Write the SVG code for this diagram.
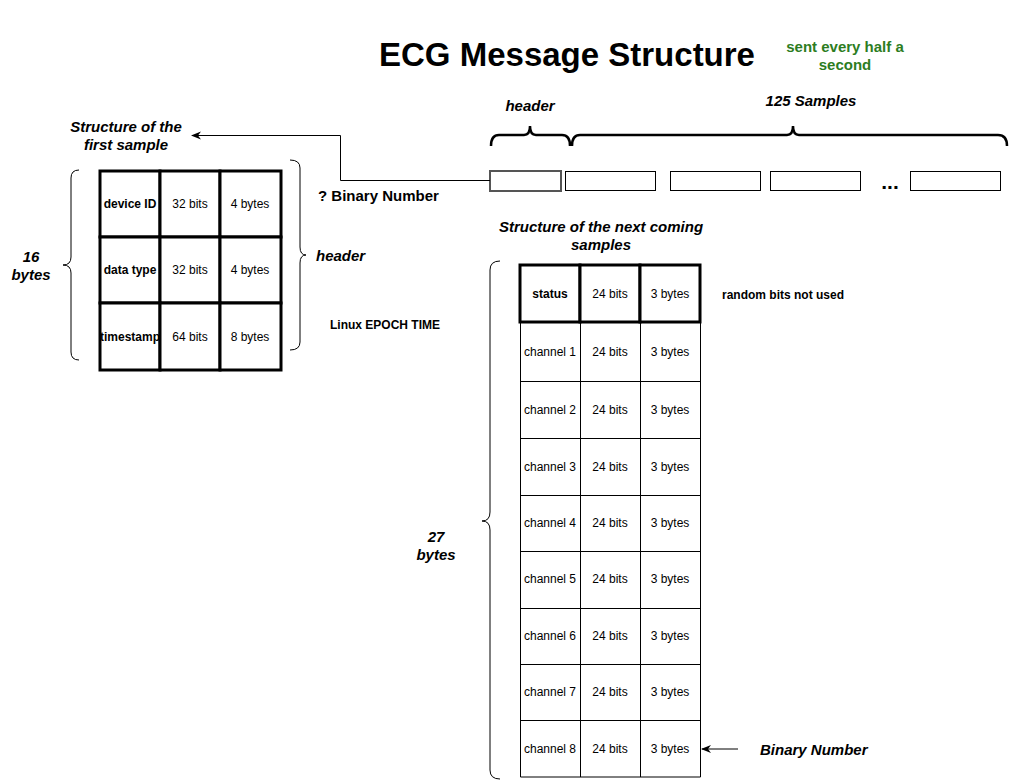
<svg xmlns="http://www.w3.org/2000/svg" width="1012" height="781" viewBox="0 0 1012 781">
<defs>
<style>
text{font-family:"Liberation Sans",Arial,sans-serif;fill:#000}
.c{text-anchor:middle}
.b{font-weight:bold}
.bi{font-weight:bold;font-style:italic}
.cell{fill:#fff;stroke:#000;stroke-width:1}
.thick{fill:#fff;stroke:#000;stroke-width:3}
.brace{fill:none;stroke:#000;stroke-width:1}
.brace2{fill:none;stroke:#000;stroke-width:2.5}
.t12{font-size:12px}
.t14{font-size:15px}
</style>
<marker id="arr" viewBox="0 0 10 10" refX="9" refY="5" markerWidth="10" markerHeight="10" markerUnits="userSpaceOnUse" orient="auto">
<path d="M0,1 L10,5 L0,9 L3,5 Z" fill="#000"/>
</marker>
</defs>
<rect width="1012" height="781" fill="#fff"/>

<g id="title">
<text x="567" y="66" class="c b" font-size="33">ECG Message Structure</text>
<text x="845" y="52" class="c b t14" style="fill:#2d7d1f">sent every half a</text>
<text x="845" y="70" class="c b t14" style="fill:#2d7d1f">second</text>
</g>

<g id="message-bar">
<rect x="490" y="171" width="71" height="20" fill="#fff" stroke="#555" stroke-width="2"/>
<rect x="565.5" y="171.5" width="90" height="19" class="cell"/>
<rect x="670.5" y="171.5" width="90" height="19" class="cell"/>
<rect x="770.5" y="171.5" width="90" height="19" class="cell"/>
<rect x="910.5" y="171.5" width="90" height="19" class="cell"/>
<text x="890" y="189" class="c b" font-size="21">...</text>
</g>

<g id="top-braces">
<path class="brace2" d="M491 146 Q491 135 499 135 L524 135 Q530 135 530 126 Q530 135 536 135 L562 135 Q570 135 570 146"/>
<path class="brace2" d="M572 146 Q572 135 580 135 L787 135 Q793 135 793 126 Q793 135 799 135 L998 135 Q1007 135 1007 146"/>
<text x="530" y="111" class="c bi t14">header</text>
<text x="811" y="106" class="c bi t14">125 Samples</text>
</g>

<g id="first-sample">
<text x="126" y="132" class="c bi t14">Structure of the</text>
<text x="126" y="150" class="c bi t14">first sample</text>
<rect x="100" y="171" width="60" height="66" class="thick"/>
<rect x="160" y="171" width="60" height="66" class="thick"/>
<rect x="220" y="171" width="61" height="66" class="thick"/>
<rect x="100" y="237" width="60" height="66" class="thick"/>
<rect x="160" y="237" width="60" height="66" class="thick"/>
<rect x="220" y="237" width="61" height="66" class="thick"/>
<rect x="100" y="303" width="60" height="67" class="thick"/>
<rect x="160" y="303" width="60" height="67" class="thick"/>
<rect x="220" y="303" width="61" height="67" class="thick"/>
<text x="130" y="208" class="c b t12">device ID</text>
<text x="190" y="208" class="c t12">32 bits</text>
<text x="250" y="208" class="c t12">4 bytes</text>
<text x="130" y="274" class="c b t12">data type</text>
<text x="190" y="274" class="c t12">32 bits</text>
<text x="250" y="274" class="c t12">4 bytes</text>
<text x="130" y="341" class="c b t12">timestamp</text>
<text x="190" y="341" class="c t12">64 bits</text>
<text x="250" y="341" class="c t12">8 bytes</text>
</g>

<g id="first-sample-braces">
<path class="brace" d="M79 170 Q71 170 71 178 L71 257 Q71 265 63 265 Q71 265 71 273 L71 352 Q71 360 79 360"/>
<text x="31" y="262" class="c bi t14">16</text>
<text x="31" y="280" class="c bi t14">bytes</text>
<path class="brace" d="M290 160 Q300 160 300 168 L300 247 Q300 255 306 255 Q300 255 300 263 L300 342 Q300 350 290 350"/>
<text x="316" y="261" class="bi t14">header</text>
<text x="318" y="201" class="b t14">? Binary Number</text>
<text x="330" y="329" class="b t12">Linux EPOCH TIME</text>
</g>

<g id="next-samples">
<text x="601" y="232" class="c bi t14">Structure of the next coming</text>
<text x="601" y="250" class="c bi t14">samples</text>
<rect x="520" y="265" width="60" height="57" class="thick"/>
<rect x="580" y="265" width="60" height="57" class="thick"/>
<rect x="640" y="265" width="60" height="57" class="thick"/>
<text x="550" y="298" class="c b t12">status</text>
<text x="610" y="298" class="c t12">24 bits</text>
<text x="670" y="298" class="c t12">3 bytes</text>
<path fill="none" stroke="#000" stroke-width="1" d="M520.5 322 V777 H700.5 V322 M580.5 322 V777 M640.5 322 V777 M520 381.5 H701 M520 438.5 H701 M520 495.5 H701 M520 551.5 H701 M520 608.5 H701 M520 664.5 H701 M520 720.5 H701"/>
<text x="550" y="356" class="c t12">channel 1</text><text x="610" y="356" class="c t12">24 bits</text><text x="670" y="356" class="c t12">3 bytes</text>
<text x="550" y="414" class="c t12">channel 2</text><text x="610" y="414" class="c t12">24 bits</text><text x="670" y="414" class="c t12">3 bytes</text>
<text x="550" y="471" class="c t12">channel 3</text><text x="610" y="471" class="c t12">24 bits</text><text x="670" y="471" class="c t12">3 bytes</text>
<text x="550" y="527" class="c t12">channel 4</text><text x="610" y="527" class="c t12">24 bits</text><text x="670" y="527" class="c t12">3 bytes</text>
<text x="550" y="583" class="c t12">channel 5</text><text x="610" y="583" class="c t12">24 bits</text><text x="670" y="583" class="c t12">3 bytes</text>
<text x="550" y="640" class="c t12">channel 6</text><text x="610" y="640" class="c t12">24 bits</text><text x="670" y="640" class="c t12">3 bytes</text>
<text x="550" y="696" class="c t12">channel 7</text><text x="610" y="696" class="c t12">24 bits</text><text x="670" y="696" class="c t12">3 bytes</text>
<text x="550" y="753" class="c t12">channel 8</text><text x="610" y="753" class="c t12">24 bits</text><text x="670" y="753" class="c t12">3 bytes</text>
<text x="722" y="299" class="b t12">random bits not used</text>
<text x="760" y="755" class="bi t14">Binary Number</text>
</g>

<g id="next-samples-brace">
<path class="brace" d="M500 261 Q490 261 490 270 L490 512 Q490 521 482 521 Q490 521 490 530 L490 770 Q490 779 500 779"/>
<text x="436" y="542" class="c bi t14">27</text>
<text x="436" y="560" class="c bi t14">bytes</text>
</g>

<g id="connectors">
<path d="M490 180.5 H340.5 V135.5 H192" fill="none" stroke="#000" stroke-width="1" marker-end="url(#arr)"/>
<path d="M738 749 H702" fill="none" stroke="#000" stroke-width="1" marker-end="url(#arr)"/>
</g>
</svg>
